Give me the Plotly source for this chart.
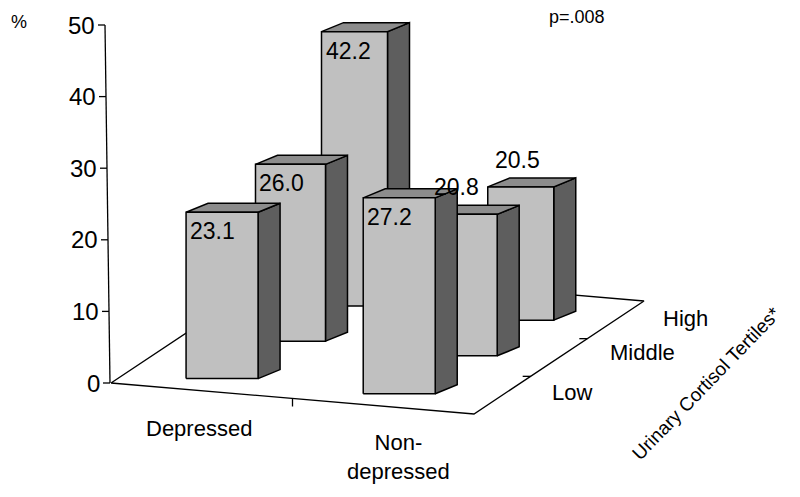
import plotly.graph_objects as go

# data
groups = ['Depressed', 'Non-<br>depressed']
tertiles = ['Low', 'Middle', 'High']
values = {'Depressed': [23.1, 26.0, 42.2],
          'Non-<br>depressed': [27.2, 20.8, 20.5]}
y_ticks = [0, 10, 20, 30, 40, 50]

# pseudo-3d frame (screen px, y down)
O = (110, 383)
ex = (363, 31)      # along groups
ez = (170, -113)    # along tertiles (depth)
row_w = [0.085, 0.425, 0.745]
grp_u = [0.167, 0.655]
grp_step = [0.032, 0.017]
row_scale = [7.2, 6.8, 6.5]
row_width = [72, 70, 66]
depth = (22, -9)

FRONT, TOP, SIDE = '#c0c0c0', '#8c8c8c', '#5e5e5e'


def proj(u, w):
    return O[0] + ex[0] * u + ez[0] * w, O[1] + ex[1] * u + ez[1] * w


def poly(fig, xs, ys, color):
    fig.add_trace(go.Scatter(x=xs + [xs[0]], y=ys + [ys[0]], mode='lines', fill='toself',
                             fillcolor=color, line=dict(color='black', width=1.5),
                             hoverinfo='skip', showlegend=False))


def seg(fig, xs, ys):
    fig.add_trace(go.Scatter(x=xs, y=ys, mode='lines', line=dict(color='black', width=1.3),
                             hoverinfo='skip', showlegend=False))


fig = go.Figure()

# floor
corners = [proj(0, 0), proj(1, 0), proj(1, 1), proj(0, 1), proj(0, 0)]
seg(fig, [c[0] for c in corners], [c[1] for c in corners])

# y axis
ax_x0, ax_x1 = 109, 104
seg(fig, [ax_x0, ax_x1], [383, 25])
for t in y_ticks:
    ty = 383 - t * 7.16
    tx = ax_x0 + (ax_x1 - ax_x0) * t / 50
    seg(fig, [tx - 7, tx], [ty, ty])
    fig.add_annotation(x=tx - 8, y=ty, text=str(t), showarrow=False, xanchor='right',
                       font=dict(size=24))
# floor ticks
p = proj(0.5, 0)
seg(fig, [p[0], p[0]], [p[1], p[1] + 8])
for k in [1 / 3, 2 / 3]:
    p = proj(1, k)
    seg(fig, [p[0] - 8, p[0]], [p[1], p[1]])

# bars, back to front
for r in [2, 1, 0]:
    for g, name in enumerate(groups):
        v = values[name][r]
        x0, yb = proj(grp_u[g] + grp_step[g] * r, row_w[r])
        x1 = x0 + row_width[r]
        yt = yb - v * row_scale[r]
        dx, dy = depth
        poly(fig, [x1, x1 + dx, x1 + dx, x1], [yb, yb + dy, yt + dy, yt], SIDE)
        poly(fig, [x0, x1, x1 + dx, x0 + dx], [yt, yt, yt + dy, yt + dy], TOP)
        poly(fig, [x0, x1, x1, x0], [yb, yb, yt, yt], FRONT)
        if g == 1 and r > 0:
            # short back bars: label sits above the bar
            fig.add_annotation(x=x0 + 5, y=yt - 12, text='%.1f' % v, showarrow=False,
                               xanchor='left', yanchor='bottom', font=dict(size=23))
        else:
            fig.add_annotation(x=x0 + 2, y=yt + 4, text='%.1f' % v, showarrow=False,
                               xanchor='left', yanchor='top', font=dict(size=23))

# category labels
fig.add_annotation(x=198, y=428, text='Depressed', showarrow=False, font=dict(size=22))
fig.add_annotation(x=397, y=457, text='Non-<br>depressed', showarrow=False, font=dict(size=22))
for lab, (lx, ly) in zip(tertiles, [(549, 392), (607, 352), (660, 318)]):
    fig.add_annotation(x=lx, y=ly, text=lab, showarrow=False, xanchor='left', font=dict(size=22))
fig.add_annotation(x=705, y=383, text='Urinary Cortisol Tertiles*', showarrow=False,
                   textangle=-46, font=dict(size=19))
fig.add_annotation(x=8, y=22, text='%', showarrow=False, xanchor='left', font=dict(size=18))
fig.add_annotation(x=546, y=17, text='p=.008', showarrow=False, xanchor='left', font=dict(size=18))

fig.update_layout(width=800, height=497, margin=dict(l=0, r=0, t=0, b=0),
                  plot_bgcolor='white', paper_bgcolor='white',
                  font=dict(family='Liberation Sans, Arial', color='black'),
                  xaxis=dict(range=[7, 807], visible=False, fixedrange=True),
                  yaxis=dict(range=[505, 8], visible=False, fixedrange=True))
fig.write_html('out.html')
